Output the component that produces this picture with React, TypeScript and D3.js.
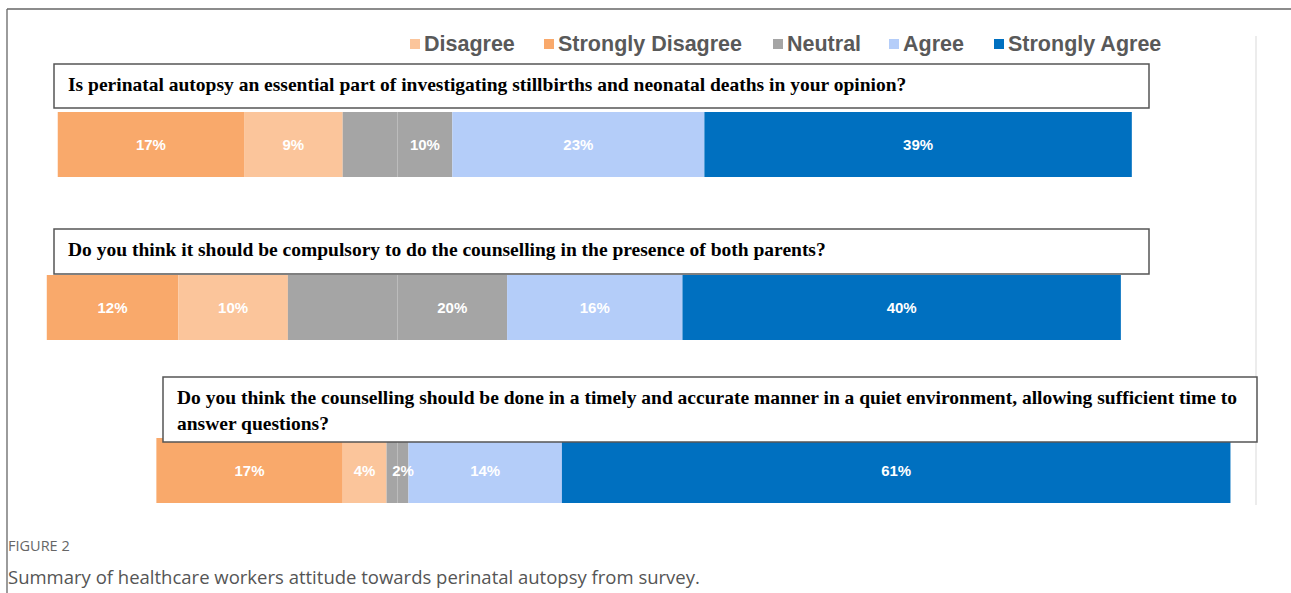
import React from "react";
import * as d3 from "d3";

const questions = [
  ["Is perinatal autopsy an essential part of investigating stillbirths and neonatal deaths in your opinion?"],
  ["Do you think it should be compulsory to do the counselling in the presence of both parents?"],
  [
    "Do you think the counselling should be done in a timely and accurate manner in a quiet environment, allowing sufficient time to",
    "answer questions?",
  ],
];
const stronglyDisagree = [17, 12, 17];
const disagree = [9, 10, 4];
const neutral = [10, 20, 2];
const agree = [23, 16, 14];
const stronglyAgree = [39, 40, 61];

const legendLabels = ["Disagree", "Strongly Disagree", "Neutral", "Agree", "Strongly Agree"];
const colors: Record<string, string> = {
  "Strongly Disagree": "#F9A96B",
  Disagree: "#FBC59B",
  Neutral: "#A5A5A5",
  Agree: "#B4CDF9",
  "Strongly Agree": "#0070C0",
};

// layout
const W = 1291;
const H = 593;
const CENTER = 397.5;
const PX = 10.96;
const boxes = [
  { x: 54, y: 64, w: 1095, h: 44 },
  { x: 54, y: 229, w: 1095, h: 45 },
  { x: 163, y: 377, w: 1094, h: 65 },
];
const legendTextX = [424, 558, 787, 903, 1008];

export default function App() {
  const x = d3
    .scaleLinear()
    .domain([-40, 80])
    .range([CENTER - 40 * PX, CENTER + 80 * PX]);
  const y = d3
    .scaleBand<number>()
    .domain([0, 1, 2])
    .range([112, 503])
    .paddingInner(98 / 163)
    .paddingOuter(0);

  const rows = questions.map((q, i) => {
    const segs: { key: string; start: number; end: number; label: string | null }[] = [];
    const nHalf = neutral[i] / 2;
    let s = -nHalf - disagree[i] - stronglyDisagree[i];
    segs.push({ key: "Strongly Disagree", start: s, end: s + stronglyDisagree[i], label: `${stronglyDisagree[i]}%` });
    s += stronglyDisagree[i];
    segs.push({ key: "Disagree", start: s, end: s + disagree[i], label: `${disagree[i]}%` });
    s += disagree[i];
    segs.push({ key: "Neutral", start: s, end: s + nHalf, label: null });
    s += nHalf;
    segs.push({ key: "Neutral", start: s, end: s + nHalf, label: `${neutral[i]}%` });
    s += nHalf;
    segs.push({ key: "Agree", start: s, end: s + agree[i], label: `${agree[i]}%` });
    s += agree[i];
    segs.push({ key: "Strongly Agree", start: s, end: s + stronglyAgree[i], label: `${stronglyAgree[i]}%` });
    return segs;
  });

  return (
    <svg
      width={W}
      height={H}
      style={{ position: "absolute", left: 0, top: 0, background: "#fff" }}
    >
      {/* frame */}
      <line x1={7} y1={9} x2={W} y2={9} stroke="#666" strokeWidth={1.3} />
      <line x1={7} y1={9} x2={7} y2={H} stroke="#666" strokeWidth={1.3} />
      <line x1={1256} y1={36} x2={1256} y2={505} stroke="#d9d9d9" strokeWidth={1} />

      {/* legend */}
      {legendLabels.map((l, i) => (
        <g key={l}>
          <rect x={legendTextX[i] - 14} y={39} width={10} height={10} fill={colors[l]} />
          <text
            x={legendTextX[i]}
            y={51}
            fontFamily="'Liberation Sans', Arial, sans-serif"
            fontWeight="bold"
            fontSize={21.5}
            fill="#595959"
          >
            {l}
          </text>
        </g>
      ))}

      {/* bars */}
      {rows.map((segs, i) => (
        <g key={i}>
          {segs.map((sg, j) => (
            <rect
              key={j}
              x={x(sg.start)}
              y={y(i)}
              width={x(sg.end) - x(sg.start)}
              height={y.bandwidth()}
              fill={colors[sg.key]}
            />
          ))}
          {segs.map((sg, j) =>
            sg.label ? (
              <text
                key={"t" + j}
                x={(x(sg.start) + x(sg.end)) / 2}
                y={(y(i) as number) + y.bandwidth() / 2}
                dominantBaseline="central"
                textAnchor="middle"
                fontFamily="'Liberation Sans', Arial, sans-serif"
                fontWeight="bold"
                fontSize={15}
                fill="#fff"
              >
                {sg.label}
              </text>
            ) : null
          )}
        </g>
      ))}

      {/* question boxes */}
      {questions.map((q, i) => (
        <g key={"q" + i}>
          <rect
            x={boxes[i].x}
            y={boxes[i].y}
            width={boxes[i].w}
            height={boxes[i].h}
            fill="#fff"
            stroke="#555"
            strokeWidth={1.5}
          />
          {q.map((line, k) => (
            <text
              key={k}
              x={boxes[i].x + 14}
              y={boxes[i].y + 27 + k * 26}
              fontFamily="'Liberation Serif', 'Times New Roman', serif"
              fontWeight="bold"
              fontSize={19.5}
              fill="#000"
            >
              {line}
            </text>
          ))}
        </g>
      ))}

      {/* caption */}
      <text x={8} y={551} fontFamily="'Open Sans', sans-serif" fontSize={14.5} fill="#666">
        FIGURE 2
      </text>
      <text x={8} y={584} fontFamily="'Open Sans', sans-serif" fontSize={18.5} fill="#555">
        Summary of healthcare workers attitude towards perinatal autopsy from survey.
      </text>
    </svg>
  );
}
